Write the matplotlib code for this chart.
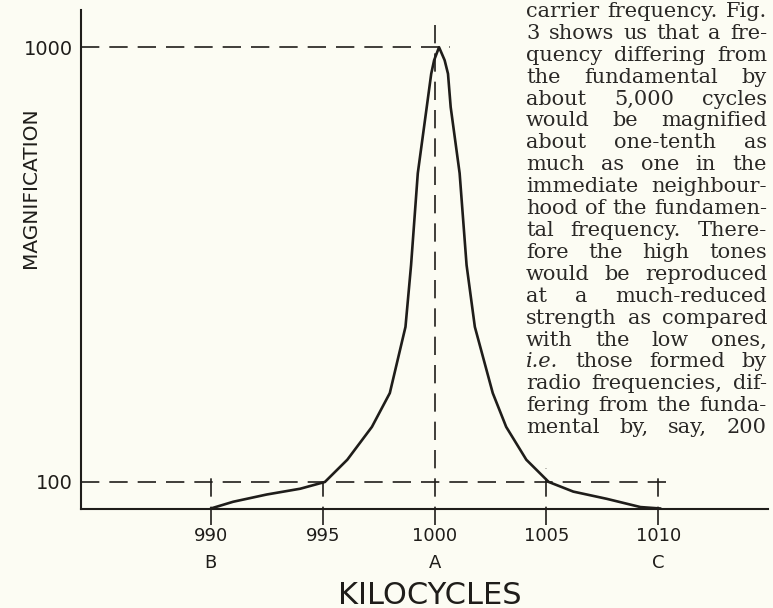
import matplotlib
matplotlib.use("Agg")
import matplotlib.pyplot as plt

# resonance curve, read in kilocycles / magnification
curve_kc = [990.0, 991.0, 992.5, 994.0, 995.1, 996.1, 997.2, 998.0, 998.7,
            998.95, 999.25, 999.65, 999.85, 999.98, 1000.2, 1000.45, 1000.6,
            1000.72, 1001.12, 1001.43, 1001.8, 1002.6, 1003.2, 1004.1, 1005.1,
            1006.2, 1007.7, 1009.2, 1010.1]
curve_mag = [45, 59, 74, 86, 100, 146, 214, 284, 421,
             549, 739, 876, 945, 973, 1000, 973, 945,
             876, 739, 549, 421, 284, 214, 146, 100,
             80, 65, 48, 45]

freq_ticks = [990, 995, 1000, 1005, 1010]
freq_labels = ["990", "995", "1000", "1005", "1010"]
freq_letters = {990: "B", 1000: "A", 1010: "C"}
guide_top = [121, 100, 1066, 129, 114]   # upper end of each vertical guide

mag_ticks = [100, 1000]
mag_labels = ["100", "1000"]
mag_guide_end = [1010.5, 1000.7]         # where the horizontal guides stop

paragraph = [
    "carrier frequency. Fig.",
    "3 shows us that a fre-",
    "quency differing from",
    "the fundamental by",
    "about 5,000 cycles",
    "would be magnified",
    "about one-tenth as",
    "much as one in the",
    "immediate neighbour-",
    "hood of the fundamen-",
    "tal frequency. There-",
    "fore the high tones",
    "would be reproduced",
    "at a much-reduced",
    "strength as compared",
    "with the low ones,",
    "i.e. those formed by",
    "radio frequencies, dif-",
    "fering from the funda-",
    "mental by, say, 200",
]
italic_words = {"i.e."}

W, H = 773, 608
paper = "#fcfcf3"
ink = "#1f1d1a"

fig = plt.figure(figsize=(W / 100, H / 100), dpi=100, facecolor=paper)
ax = fig.add_axes([81 / W, 1 - 509 / H, 687 / W, 499 / H])
ax.set_facecolor("none")

ax.set_xlim(984.2, 1014.9)
ax.set_ylim(44, 1077)

dash = (0, (11, 6))

# horizontal guides at 100 and 1000
for m, x_end in zip(mag_ticks, mag_guide_end):
    ax.plot([984.2, x_end], [m, m], color=ink, lw=1.2, linestyle=dash)

# vertical guides, running a little below the axis
for f, top in zip(freq_ticks, guide_top):
    ax.plot([f, f], [11, top], color=ink, lw=1.2, linestyle=dash,
            clip_on=False)

ax.plot(curve_kc, curve_mag, color=ink, lw=1.9,
        solid_capstyle="round", solid_joinstyle="round")

for side in ["top", "right"]:
    ax.spines[side].set_visible(False)
for side in ["left", "bottom"]:
    ax.spines[side].set_color(ink)
    ax.spines[side].set_linewidth(1.5)

ax.set_xticks(freq_ticks, freq_labels)
ax.set_yticks(mag_ticks, mag_labels)
ax.tick_params(axis="x", length=0, pad=13, labelsize=13, labelcolor=ink)
ax.tick_params(axis="y", length=0, pad=6, labelsize=14, labelcolor=ink)

for f, letter in freq_letters.items():
    ax.text(f, -0.108, letter, transform=ax.get_xaxis_transform(),
            ha="center", va="center", fontsize=13, color=ink)

fig.text(0.556, 1 - 595 / H, "KILOCYCLES", ha="center", va="center",
         fontsize=22, color=ink)
fig.text(31 / W, 1 - 188 / H, "MAGNIFICATION", rotation=90,
         ha="center", va="center", fontsize=14.5, color=ink)

# justified text column beside the figure
left_px, right_px = 526, 767
first_base, line_gap = 17, 21.9
renderer = fig.canvas.get_renderer()


def make_words(words, size):
    return [fig.text(0, 0, w, fontsize=size, family="DejaVu Serif",
                     style="italic" if w in italic_words else "normal",
                     color="#2a2826", va="baseline", ha="left")
            for w in words]


# pick the largest size (up to 15pt) at which every line still fits
text_size = 15.0
probe = fig.text(0, 0, "a b", fontsize=text_size, family="DejaVu Serif")
space = (probe.get_window_extent(renderer).width
         - fig.text(0, 0, "ab", fontsize=text_size, family="DejaVu Serif")
         .get_window_extent(renderer).width)
widest = 0
for line in paragraph:
    words = line.split()
    ts = make_words(words, text_size)
    natural = sum(t.get_window_extent(renderer).width for t in ts)
    natural += space * (len(words) - 1)
    widest = max(widest, natural)
    for t in ts:
        t.remove()
for t in fig.texts[-2:]:
    t.remove()
text_size = min(text_size, text_size * (right_px - left_px) / widest)

for i, line in enumerate(paragraph):
    words = line.split()
    base = first_base + i * line_gap
    texts = make_words(words, text_size)
    widths = [t.get_window_extent(renderer).width for t in texts]
    gap = (right_px - left_px - sum(widths)) / max(len(words) - 1, 1)
    x = left_px
    for t, w in zip(texts, widths):
        t.set_position((x / W, 1 - base / H))
        x += w + gap

fig.savefig("out.png", dpi=100, facecolor=paper)
